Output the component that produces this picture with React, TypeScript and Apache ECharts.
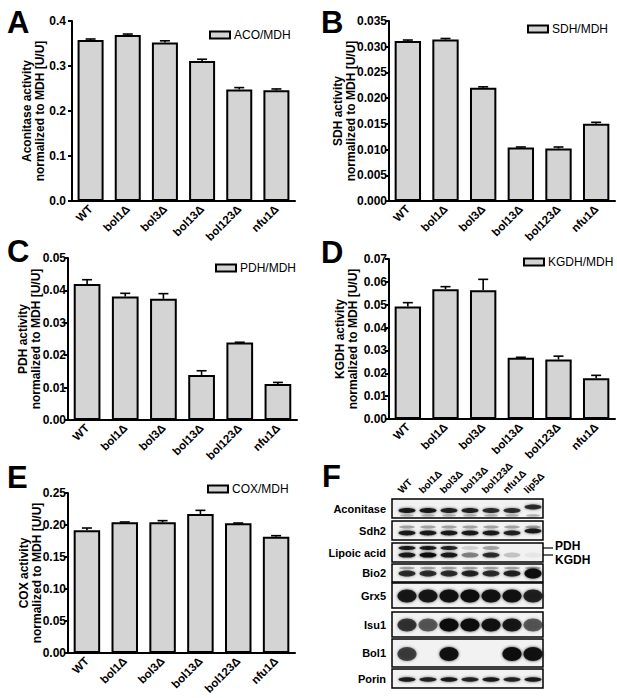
import React, { useEffect, useRef } from "react";
import * as echarts from "echarts";

const categories = ["WT", "bol1Δ", "bol3Δ", "bol13Δ", "bol123Δ", "nfu1Δ"];

const acoValues = [0.358, 0.369, 0.352, 0.311, 0.248, 0.246];
const acoErrors = [0.002, 0.002, 0.004, 0.004, 0.004, 0.003];
const sdhValues = [0.0311, 0.0314, 0.022, 0.0104, 0.0102, 0.015];
const sdhErrors = [0.0002, 0.0002, 0.0002, 0.0001, 0.0003, 0.0003];
const pdhValues = [0.042, 0.0381, 0.0374, 0.0139, 0.0239, 0.0111];
const pdhErrors = [0.0013, 0.001, 0.0016, 0.0013, 0.0001, 0.0005];
const kgdhValues = [0.0492, 0.0568, 0.0563, 0.0268, 0.026, 0.0178];
const kgdhErrors = [0.0017, 0.0011, 0.0048, 0.0002, 0.0015, 0.0013];
const coxValues = [0.1917, 0.2042, 0.2042, 0.2172, 0.2026, 0.1818];
const coxErrors = [0.0036, 0.0005, 0.0026, 0.0057, 0.0005, 0.0015];

const seriesNames = ["ACO/MDH", "SDH/MDH", "PDH/MDH", "KGDH/MDH", "COX/MDH"];
const axisTitles = [
  "Aconitase activity\nnormalized to MDH [U/U]",
  "SDH activity\nnormalized to MDH [U/U]",
  "PDH activity\nnormalized to MDH [U/U]",
  "KGDH activity\nnormalized to MDH [U/U]",
  "COX activity\nnormalized to MDH [U/U]",
];
const yMax = [0.4, 0.035, 0.05, 0.07, 0.25];
const yInterval = [0.1, 0.005, 0.01, 0.01, 0.05];
const yDecimals = [1, 3, 2, 2, 2];
const panelLetters = ["A", "B", "C", "D", "E", "F"];

// Western blot panel
const laneLabels = ["WT", "bol1Δ", "bol3Δ", "bol13Δ", "bol123Δ", "nfu1Δ", "lip5Δ"];
const blotRows = ["Aconitase", "Sdh2", "Lipoic acid", "Bio2", "Grx5", "Isu1", "Bol1", "Porin"];
const aconitaseBand = [0.9, 0.9, 0.85, 0.85, 0.8, 0.8, 0.8];
const sdh2Band = [0.9, 0.9, 0.9, 0.9, 0.9, 0.85, 0.9];
const pdhBand = [0.9, 0.9, 0.85, 0.12, 0.3, 0, 0];
const kgdhBand = [0.9, 1, 0.9, 0.45, 0.8, 0.18, 0.05];
const bio2Band = [0.8, 0.8, 0.8, 0.85, 0.8, 0.85, 1];
const grx5Band = [0.9, 0.9, 0.95, 1, 0.95, 0.95, 0.85];
const isu1Band = [0.75, 0.6, 1, 1, 0.95, 0.9, 0.6];
const bol1Band = [0.7, 0, 0.95, 0, 0, 1, 0.95];
const porinBand = [0.9, 0.85, 0.9, 0.85, 0.9, 0.85, 0.9];

const FONT = "'Liberation Sans', Arial, sans-serif";

export default function App() {
  const ref = useRef<HTMLDivElement>(null);
  useEffect(() => {
    if (!ref.current) return;
    const chart = echarts.init(ref.current, null, { renderer: "svg" });

    const values = [acoValues, sdhValues, pdhValues, kgdhValues, coxValues];
    const errors = [acoErrors, sdhErrors, pdhErrors, kgdhErrors, coxErrors];

    const grids = [
      { left: 72, top: 21, width: 223, height: 180 },
      { left: 389, top: 21, width: 226, height: 180 },
      { left: 68, top: 258, width: 229, height: 162 },
      { left: 389, top: 259, width: 226, height: 160 },
      { left: 68, top: 493, width: 227, height: 160 },
    ];
    const nameGaps = [26, 32, 26, 30, 25];
    const labelMargins = [6, 2, 2, 2, 2];
    const legendPos = [
      { left: 209, top: 29 },
      { left: 527, top: 23 },
      { left: 215, top: 262 },
      { left: 523, top: 256 },
      { left: 207, top: 483 },
    ];

    const xAxis = grids.map((_, k) => ({
      type: "category",
      gridIndex: k,
      data: categories,
      axisLine: { lineStyle: { color: "#000", width: 2 } },
      axisTick: { show: false },
      axisLabel: {
        rotate: 45,
        margin: 6,
        color: "#000",
        fontWeight: "bold",
        fontSize: 11.5,
        fontFamily: FONT,
        interval: 0,
      },
    }));
    const yAxis = grids.map((_, k) => ({
      type: "value",
      gridIndex: k,
      min: 0,
      max: yMax[k],
      interval: yInterval[k],
      splitLine: { show: false },
      axisLine: { show: true, lineStyle: { color: "#000", width: 2 } },
      axisTick: { show: true, length: 4, lineStyle: { color: "#000", width: 2 } },
      axisLabel: {
        color: "#000",
        fontWeight: "bold",
        fontSize: 12,
        fontFamily: FONT,
        margin: labelMargins[k],
        formatter: (v: number) => v.toFixed(yDecimals[k]),
      },
      name: axisTitles[k],
      nameLocation: "middle",
      nameRotate: 90,
      nameGap: nameGaps[k],
      nameMoveOverlap: false,
      nameTextStyle: {
        color: "#000",
        fontWeight: "bold",
        fontSize: 12,
        fontFamily: FONT,
        lineHeight: 13,
      },
    }));

    const series: any[] = [];
    values.forEach((vals, k) => {
      series.push({
        type: "bar",
        name: seriesNames[k],
        xAxisIndex: k,
        yAxisIndex: k,
        data: vals,
        barWidth: "70%",
        itemStyle: { color: "#d4d4d4", borderColor: "#000", borderWidth: 2 },
        z: 2,
      });
      series.push({
        type: "custom",
        name: seriesNames[k] + " err",
        xAxisIndex: k,
        yAxisIndex: k,
        z: 3,
        encode: { x: 0, y: 1 },
        data: vals.map((v, i) => [i, v, errors[k][i]]),
        renderItem: (params: any, api: any) => {
          const i = api.value(0);
          const v = api.value(1);
          const e = api.value(2);
          const p0 = api.coord([i, v]);
          const p1 = api.coord([i, v + e]);
          const hw = 5;
          return {
            type: "group",
            children: [
              {
                type: "line",
                shape: { x1: p0[0], y1: p0[1], x2: p1[0], y2: p1[1] },
                style: { stroke: "#000", lineWidth: 1.6 },
              },
              {
                type: "line",
                shape: { x1: p1[0] - hw, y1: p1[1], x2: p1[0] + hw, y2: p1[1] },
                style: { stroke: "#000", lineWidth: 1.6 },
              },
            ],
          };
        },
      });
    });

    const legend = seriesNames.map((n, k) => ({
      data: [n],
      left: legendPos[k].left,
      top: legendPos[k].top,
      padding: 0,
      icon: "rect",
      itemWidth: 20,
      itemHeight: 7,
      itemStyle: { color: "#d4d4d4", borderColor: "#000", borderWidth: 2 },
      textStyle: { color: "#000", fontSize: 12, fontFamily: FONT, padding: [0, 0, 0, -1] },
      selectedMode: false,
    }));

    // Panel letters
    const letterPos = [
      [7, 7],
      [321, 7],
      [7, 236],
      [321, 237],
      [7, 462],
      [322, 461],
    ];
    const graphic: any[] = panelLetters.map((l, k) => ({
      type: "text",
      x: letterPos[k][0],
      y: letterPos[k][1],
      style: {
        text: l,
        font: `bold 31px ${FONT}`,
        fill: "#000",
        verticalAlign: "top",
      },
    }));

    // Blot panel F
    const boxX = 392;
    const boxW = 151;
    const laneX = (i: number) => 407 + i * 21;
    const rowBoxes = [
      [499, 19],
      [521, 19],
      [543, 19],
      [564, 18],
      [583, 25],
      [612, 25],
      [639, 28],
      [669, 19],
    ];
    const band = (cx: number, cy: number, rx: number, ry: number, a: number) => ({
      type: "ellipse",
      shape: { cx, cy, rx, ry },
      style: {
        fill: `rgba(15,15,15,${a})`,
        shadowBlur: 3,
        shadowColor: `rgba(15,15,15,${a * 0.8})`,
      },
      z: 5,
    });

    blotRows.forEach((r, k) => {
      const [y, h] = rowBoxes[k];
      graphic.push({
        type: "rect",
        shape: { x: boxX, y, width: boxW, height: h },
        style: { fill: "#f2f2f2", stroke: "#000", lineWidth: 1.5 },
        z: 4,
      });
      graphic.push({
        type: "text",
        x: 386,
        y: y + h / 2,
        style: {
          text: r,
          font: `bold 11px ${FONT}`,
          fill: "#000",
          align: "right",
          verticalAlign: "middle",
        },
      });
    });

    laneLabels.forEach((l, i) => {
      const x = laneX(i);
      // Aconitase
      graphic.push(band(x, i === 6 ? 507 : 510.5, 8.5, 2.5, aconitaseBand[i]));
      graphic.push(band(x, 515.5, 7, 1.3, 0.25));
      // Sdh2
      graphic.push(band(x, 527, 8, 1.5, 0.3));
      graphic.push(band(x, i === 6 ? 531 : 533, 8.5, 2.4, sdh2Band[i]));
      // Lipoic acid
      if (pdhBand[i] > 0) graphic.push(band(x, 548, 8.5, 2, pdhBand[i]));
      if (kgdhBand[i] > 0) graphic.push(band(x, 555, 8.5, 2.6, kgdhBand[i]));
      // Bio2
      graphic.push(band(x, 568, 8, 1.3, 0.3));
      graphic.push(band(x, 573.5, 8.5, i === 6 ? 5 : 3, bio2Band[i]));
      // Grx5
      graphic.push(band(x, 596, 9.5, 6.5, grx5Band[i]));
      // Isu1
      graphic.push(band(x, 625, 9.5, 6.5, isu1Band[i]));
      // Bol1
      if (bol1Band[i] > 0) graphic.push(band(x, 654, 9.5, 7, bol1Band[i]));
      // Porin
      graphic.push(band(x, 679.5, 8.5, 2.2, porinBand[i]));

      graphic.push({
        type: "text",
        x: x - 4,
        y: 495,
        rotation: Math.PI / 4,
        style: {
          text: l,
          font: `bold 10px ${FONT}`,
          fill: "#000",
          align: "left",
          verticalAlign: "bottom",
        },
      });
    });

    // PDH / KGDH markers
    graphic.push({
      type: "line",
      shape: { x1: 543, y1: 548, x2: 553, y2: 548 },
      style: { stroke: "#000", lineWidth: 1.2 },
    });
    graphic.push({
      type: "line",
      shape: { x1: 543, y1: 555, x2: 553, y2: 555 },
      style: { stroke: "#000", lineWidth: 1.2 },
    });
    graphic.push({
      type: "text",
      x: 555,
      y: 546,
      style: {
        text: "PDH",
        font: `bold 12px ${FONT}`,
        lineHeight: 12,
        fill: "#000",
        verticalAlign: "middle",
      },
    });
    graphic.push({
      type: "text",
      x: 555,
      y: 560,
      style: {
        text: "KGDH",
        font: `bold 12px ${FONT}`,
        lineHeight: 12,
        fill: "#000",
        verticalAlign: "middle",
      },
    });

    chart.setOption({
      animation: false,
      backgroundColor: "#fff",
      textStyle: { fontFamily: FONT },
      grid: grids,
      xAxis,
      yAxis,
      legend,
      series,
      graphic,
    });
    return () => chart.dispose();
  }, []);
  return (
    <div
      ref={ref}
      style={{ position: "fixed", left: 0, top: 0, width: 617, height: 698, background: "#fff" }}
    />
  );
}
